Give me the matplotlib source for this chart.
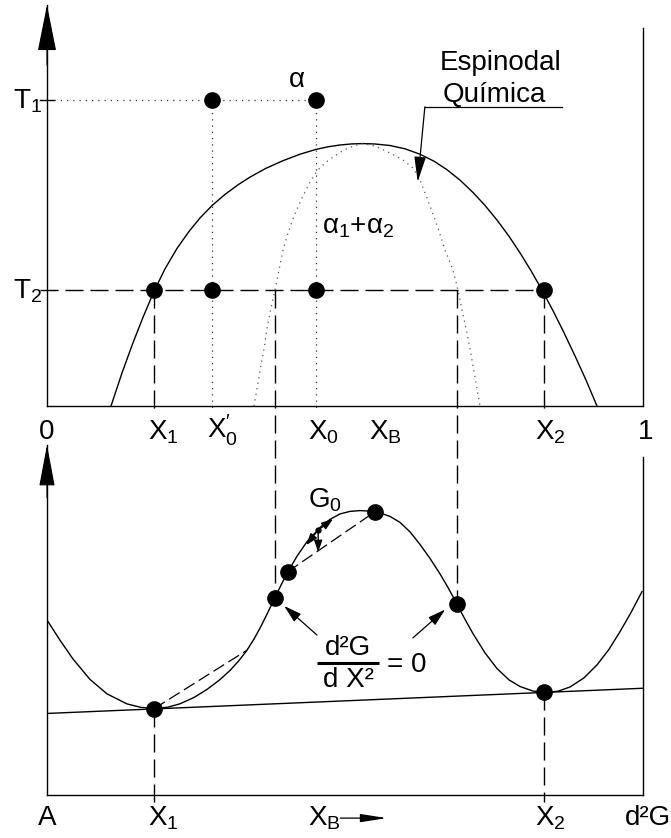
import matplotlib.pyplot as plt
from matplotlib.lines import Line2D
from matplotlib.transforms import blended_transform_factory

plt.rcParams['font.family'] = ['Liberation Sans', 'DejaVu Sans']
plt.rcParams['mathtext.fontset'] = 'custom'
plt.rcParams['mathtext.rm'] = 'Liberation Sans'
plt.rcParams['mathtext.it'] = 'Liberation Sans'
plt.rcParams['mathtext.bf'] = 'Liberation Sans:bold'

# compositions (mole fraction of B)
X1, X0p, X0, XB, X2 = 0.180, 0.277, 0.451, 0.550, 0.834
xs_left, xs_right = 0.382, 0.688      # chemical spinodal at T2

# temperatures
T1, T2 = 76.3, 28.9

# miscibility gap
binodal_x = [0.1074, 0.1258, 0.1443, 0.1611, 0.1795, 0.1980, 0.2181, 0.2383, 0.2567,
             0.2768, 0.2987, 0.3205, 0.3406, 0.3674, 0.3960, 0.4245, 0.4513, 0.4715,
             0.4916, 0.5117, 0.5302, 0.5503, 0.5755, 0.6007, 0.6258, 0.6493, 0.6711,
             0.6930, 0.7148, 0.7349, 0.7550, 0.7752, 0.7936, 0.8121, 0.8305, 0.8490,
             0.8658, 0.8859, 0.9044, 0.9228]
binodal_T = [0.00, 8.23, 15.77, 22.13, 28.58, 34.20, 39.29, 43.54, 46.88,
             49.98, 52.77, 55.16, 57.08, 59.28, 61.18, 62.79, 63.99, 64.64,
             65.09, 65.36, 65.44, 65.34, 64.96, 64.14, 62.79, 61.05, 58.93,
             56.33, 53.24, 50.02, 46.38, 42.32, 38.20, 33.74, 28.93, 23.77,
             18.78, 12.49, 6.46, 0.00]

# chemical spinodal
spinodal_x = [0.3473, 0.3540, 0.3591, 0.3641, 0.3674, 0.3708, 0.3742, 0.3775, 0.3826,
              0.3893, 0.3960, 0.4044, 0.4144, 0.4279, 0.4396, 0.4530, 0.4664, 0.4799,
              0.4983, 0.5168, 0.5302, 0.5503, 0.5755, 0.5973, 0.6141, 0.6258, 0.6376,
              0.6544, 0.6678, 0.6812, 0.6896, 0.6963, 0.7047, 0.7131, 0.7198, 0.7265]
spinodal_T = [0.00, 5.74, 10.22, 14.21, 17.71, 20.70, 23.19, 25.69, 28.93,
              33.92, 38.90, 43.14, 47.38, 51.87, 55.36, 58.60, 60.60, 62.09,
              63.84, 64.96, 65.44, 64.84, 63.09, 61.35, 59.35, 56.36, 51.87,
              45.14, 38.90, 33.92, 28.93, 23.94, 18.20, 11.47, 5.74, 0.00]

# free energy of mixing at T2
g_x = [0.0000, 0.0218, 0.0436, 0.0721, 0.1007, 0.1342, 0.1577, 0.1812, 0.2030, 0.2232,
       0.2466, 0.2685, 0.2886, 0.3070, 0.3221, 0.3356, 0.3473, 0.3574, 0.3691, 0.3809,
       0.3926, 0.4044, 0.4195, 0.4362, 0.4581, 0.4748, 0.4916, 0.5084, 0.5252, 0.5419,
       0.5587, 0.5755, 0.5923, 0.6091, 0.6258, 0.6426, 0.6594, 0.6728, 0.6862, 0.6997,
       0.7148, 0.7349, 0.7550, 0.7752, 0.7936, 0.8154, 0.8372, 0.8574, 0.8775, 0.9010,
       0.9228, 0.9430, 0.9614, 0.9799, 0.9983]
g_G = [50.00, 44.23, 38.86, 33.03, 28.89, 26.03, 25.03, 24.71, 25.09, 26.06,
       27.86, 30.17, 32.74, 35.57, 38.40, 41.37, 44.57, 47.66, 51.66, 55.86,
       59.96, 63.86, 68.23, 72.37, 76.46, 78.74, 80.31, 81.03, 81.26, 81.11,
       80.60, 79.60, 77.89, 75.17, 71.60, 67.60, 63.17, 59.29, 55.06, 50.71,
       46.09, 40.60, 36.14, 32.89, 31.00, 29.70, 29.26, 29.66, 30.86, 33.46,
       37.17, 41.63, 46.66, 52.14, 58.11]

# common tangent
tangent_x = [0.0, 1.0]
tangent_G = [23.3, 30.5]

# marked points on G
gpts_x = [X1, xs_left, 0.404, XB, xs_right, X2]
gpts_G = [24.7, 56.2, 63.8, 80.9, 54.5, 29.3]

# tangent-construction chord from X1
chord_x = [X1, 0.3356]
chord_G = [24.7, 41.37]

# point G0 and its displacement directions
g0 = (0.455, 75.7)
g0_arrows = [(0.480, 78.9), (0.435, 71.4), (0.455, 69.4)]

W, H = 671, 838
fig = plt.figure(figsize=(W / 100, H / 100), dpi=100)
ax1 = fig.add_axes([47 / W, 1 - 406 / H, 596 / W, 401 / H])
ax2 = fig.add_axes([47 / W, 1 - 795 / H, 596 / W, 350 / H])

for ax, top in ((ax1, 94.3), (ax2, 96.6)):
    ax.set_xlim(0, 1)
    ax.set_ylim(0, 100)
    ax.set_xticks([])
    ax.set_yticks([])
    for s in ('top', 'right'):
        ax.spines[s].set_visible(False)
    for s in ('left', 'bottom'):
        ax.spines[s].set_linewidth(1.0)
    ax.plot([1, 1], [0, top], color='k', lw=1.0, clip_on=False)
    ax.patch.set_alpha(0)

# arrow heads on the vertical axes
ax1.annotate('', xy=(0, 1), xycoords='axes fraction', xytext=(0, 0.85),
             arrowprops=dict(arrowstyle='-|>,head_length=3.0,head_width=0.6',
                             mutation_scale=10, color='k', lw=0.8, shrinkA=0, shrinkB=0))
ax2.annotate('', xy=(0, 1), xycoords='axes fraction', xytext=(0, 0.85),
             arrowprops=dict(arrowstyle='-|>,head_length=2.65,head_width=0.5',
                             mutation_scale=10, color='k', lw=0.8, shrinkA=0, shrinkB=0))

dash = (0, (13, 5))
dash_short = (0, (10, 4))
dots = (0, (1, 4))

# --- T-X diagram ---
ax1.plot(binodal_x, binodal_T, color='k', lw=1.0)
ax1.plot(spinodal_x, spinodal_T, color='#555555', lw=0.9, ls=(0, (1, 3.5)))

ax1.plot([-0.012, 0.012], [T1, T1], color='k', lw=1.0, clip_on=False)
ax1.plot([0.012, X0], [T1, T1], color='#333333', lw=0.9, ls=dots)
for x in (X0p, X0):
    ax1.plot([x, x], [T1, -1.0], color='#333333', lw=0.9, ls=dots, clip_on=False)
ax1.plot([-0.012, X2], [T2, T2], color='k', lw=1.0, ls=dash, clip_on=False)
for x in (X1, X2):
    ax1.plot([x, x], [T2, -1.5], color='k', lw=1.0, ls=dash, clip_on=False)

ax1.plot([X0p, X0], [T1, T1], 'o', color='k', ms=11, zorder=5)
ax1.plot([X1, X0p, X0, X2], [T2] * 4, 'o', color='k', ms=11, zorder=5)

# spinodal compositions carried down to the inflection points of G
to_fig = fig.transFigure.inverted()
for xs, gs in ((xs_left, gpts_G[1]), (xs_right, gpts_G[4])):
    top_pt = to_fig.transform(ax1.transData.transform((xs, T2)))
    low_pt = to_fig.transform(ax2.transData.transform((xs, gs)))
    fig.add_artist(Line2D([top_pt[0], low_pt[0]], [top_pt[1], low_pt[1]],
                          transform=fig.transFigure, color='k', lw=1.0,
                          linestyle=dash))

fs = 20
ax1.text(0.419, 79.6, 'α', fontsize=fs, ha='center', va='baseline')
ax1.text(0.461, 43.1, 'α$_1$+α$_2$', fontsize=fs, ha='left', va='baseline')
ax1.text(0.659, 83.8, 'Espinodal', fontsize=fs, ha='left', va='baseline')
ax1.text(0.663, 75.8, 'Química', fontsize=fs, ha='left', va='baseline')
ax1.plot([0.634, 0.864], [74.6, 74.6], color='k', lw=0.9)
ax1.annotate('', xy=(0.622, 55.9), xytext=(0.634, 74.6),
             arrowprops=dict(arrowstyle='-|>,head_length=1.3,head_width=0.3',
                             mutation_scale=12, color='k', lw=0.9, shrinkA=0, shrinkB=0))

for lab, t in (('T$_1$', T1), ('T$_2$', T2)):
    ax1.annotate(lab, xy=(0, t), xytext=(-34, -8), textcoords='offset pixels',
                 fontsize=fs, ha='left', va='baseline', annotation_clip=False)

tr1 = blended_transform_factory(ax1.transData, ax1.transAxes)
top_labels = [('0', 0.0, 0, 'center'), ('X$_1$', X1, -6, 'left'),
              ('X$_0^{\\prime}$', X0p, -5, 'left'), ('X$_0$', X0, -8, 'left'),
              ('X$_\\mathrm{B}$', XB, -6, 'left'), ('X$_2$', X2, -9, 'left'),
              ('1', 1.0, 3, 'center')]
for lab, x, dx, ha in top_labels:
    ax1.annotate(lab, xy=(x, 0), xycoords=tr1, xytext=(dx, -33),
                 textcoords='offset pixels', fontsize=fs, ha=ha, va='baseline',
                 annotation_clip=False)

# --- G-X curve ---
ax2.plot(g_x, g_G, color='k', lw=1.0)
ax2.plot(tangent_x, tangent_G, color='k', lw=1.0)
ax2.plot(chord_x, chord_G, color='k', lw=0.9, ls=dash_short)
ax2.plot([gpts_x[2], gpts_x[3]], [gpts_G[2], gpts_G[3]], color='k', lw=0.9, ls=dash_short)
ax2.plot(gpts_x, gpts_G, 'o', color='k', ms=11, zorder=5)
for x, gv in ((X1, gpts_G[0]), (X2, gpts_G[5])):
    ax2.plot([x, x], [gv, -2.0], color='k', lw=1.0, ls=dash, clip_on=False)

ax2.plot(*g0, 'o', color='k', ms=3.5, zorder=5)
for tip in g0_arrows:
    ax2.annotate('', xy=tip, xytext=g0,
                 arrowprops=dict(arrowstyle='-|>,head_length=1.0,head_width=0.35',
                                 mutation_scale=7, color='k', lw=1.0, shrinkA=0, shrinkB=0))
ax2.text(0.438, 82.0, 'G$_0$', fontsize=fs, ha='left', va='baseline')

# d2G/dX2 = 0 at the inflection points
ax2.text(0.466, 40.0, 'd²G', fontsize=fs, ha='left', va='baseline')
ax2.plot([0.453, 0.557], [37.7, 37.7], color='k', lw=2.2, solid_capstyle='butt')
ax2.text(0.463, 30.9, 'd X²', fontsize=fs, ha='left', va='baseline')
ax2.text(0.570, 35.1, '= 0', fontsize=fs, ha='left', va='baseline')
for start, end in (((0.453, 45.7), (0.398, 54.0)), ((0.614, 44.9), (0.668, 53.0))):
    ax2.annotate('', xy=end, xytext=start,
                 arrowprops=dict(arrowstyle='-|>,head_length=1.2,head_width=0.35',
                                 mutation_scale=9, color='k', lw=0.9, shrinkA=0, shrinkB=0))

tr2 = blended_transform_factory(ax2.transData, ax2.transAxes)
bottom_labels = [('A', 0.0, 0, 'center'), ('X$_1$', X1, -6, 'left'),
                 ('X$_\\mathrm{B}$', 0.438, 0, 'left'), ('X$_2$', X2, -9, 'left'),
                 ('d²G', 1.0, -18, 'left')]
for lab, x, dx, ha in bottom_labels:
    ax2.annotate(lab, xy=(x, 0), xycoords=tr2, xytext=(dx, -30),
                 textcoords='offset pixels', fontsize=fs, ha=ha, va='baseline',
                 annotation_clip=False)
ax2.annotate('', xy=(0.570, -0.066), xycoords='axes fraction',
             xytext=(0.492, -0.066), textcoords='axes fraction',
             arrowprops=dict(arrowstyle='-|>,head_length=1.6,head_width=0.25',
                             mutation_scale=10, color='k', lw=0.9, shrinkA=0, shrinkB=0))

fig.savefig('out.png', dpi=100)
